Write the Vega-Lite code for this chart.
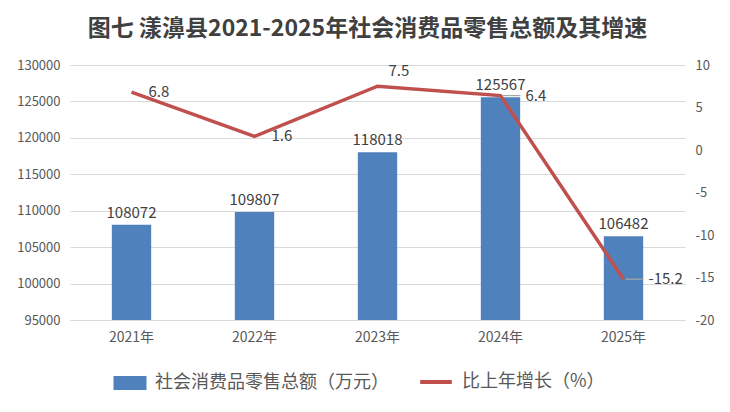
{
  "$schema": "https://vega.github.io/schema/vega-lite/v6.json",
  "width": 615,
  "height": 255,
  "autosize": {"type": "none"},
  "padding": {"left": 70, "top": 65, "right": 45, "bottom": 92},
  "background": "white",
  "config": {
    "view": {"stroke": null},
    "font": "Noto Sans CJK SC",
    "axis": {"labelOverlap": false, "labelSeparation": 0}
  },
  "title": {
    "text": "图七  漾濞县2021-2025年社会消费品零售总额及其增速",
    "font": "Noto Sans CJK SC",
    "fontSize": 23,
    "fontWeight": "bold",
    "color": "#404040",
    "anchor": "middle",
    "dx": -10,
    "offset": 18
  },
  "data": {
    "values": [
      {"year": "2021年", "sales": 108072, "growth": 6.8},
      {"year": "2022年", "sales": 109807, "growth": 1.6},
      {"year": "2023年", "sales": 118018, "growth": 7.5},
      {"year": "2024年", "sales": 125567, "growth": 6.4},
      {"year": "2025年", "sales": 106482, "growth": -15.2}
    ]
  },
  "encoding": {
    "x": {
      "field": "year",
      "type": "nominal",
      "sort": null,
      "scale": {"paddingInner": 0.68, "paddingOuter": 0.34},
      "axis": {
        "title": null,
        "labelAngle": 0,
        "labelFontSize": 14,
        "labelColor": "#595959",
        "labelPadding": 10,
        "ticks": false,
        "domainColor": "#d9d9d9",
        "domainWidth": 1
      }
    }
  },
  "layer": [
    {
      "layer": [
        {
          "mark": {"type": "bar", "color": "#4F81BD"},
          "encoding": {
            "y": {
              "field": "sales",
              "type": "quantitative",
              "scale": {"domain": [95000, 130000], "zero": false, "nice": false},
              "axis": {
                "title": null,
                "orient": "left",
                "tickCount": 7,
                "labelExpr": "replace(datum.label, ',', '')",
                "labelOverlap": false,
                "grid": true,
                "gridColor": "#d9d9d9",
                "domain": false,
                "ticks": false,
                "labelFontSize": 13,
                "labelColor": "#595959",
                "labelPadding": 10
              }
            },
            "y2": {"datum": 95000},
            "color": {
              "datum": "社会消费品零售总额（万元）",
              "scale": {"range": ["#4F81BD"]},
              "legend": {
                "orient": "none",
                "legendX": 50,
                "legendY": 308,
                "title": null,
                "symbolType": "M-1.65,-0.7H1.65V0.7H-1.65Z",
                "symbolSize": 400,
                "symbolStrokeWidth": 0,
                "labelFontSize": 18,
                "labelColor": "#595959",
                "labelOffset": 15,
                "labelLimit": 400
              }
            }
          }
        },
        {
          "mark": {"type": "text", "baseline": "bottom", "dy": -4, "fontSize": 15, "color": "#404040"},
          "encoding": {
            "y": {"field": "sales", "type": "quantitative"},
            "text": {"field": "sales", "type": "quantitative", "format": "d"}
          }
        }
      ]
    },
    {
      "layer": [
        {
          "mark": {"type": "line", "color": "#C0504D", "strokeWidth": 3.5},
          "encoding": {
            "y": {
              "field": "growth",
              "type": "quantitative",
              "scale": {"domain": [-20, 10], "nice": false},
              "axis": {
                "title": null,
                "orient": "right",
                "values": [-20, -15, -10, -5, 0, 5, 10],
                "labelExpr": "replace(datum.label, '−', '-')",
                "labelOverlap": false,
                "grid": false,
                "domain": false,
                "ticks": false,
                "labelFontSize": 13,
                "labelColor": "#595959",
                "labelPadding": 10
              }
            },
            "color": {
              "datum": "比上年增长（%）",
              "scale": {"range": ["#C0504D"]},
              "legend": {
                "orient": "none",
                "legendX": 348,
                "legendY": 299,
                "title": null,
                "symbolType": "stroke",
                "symbolSize": 1000,
                "symbolStrokeWidth": 4,
                "labelFontSize": 18,
                "labelColor": "#595959",
                "labelOffset": 8,
                "labelLimit": 400
              }
            }
          }
        },
        {
          "transform": [{"filter": "datum.year == '2024年' || datum.year == '2025年'"}],
          "mark": {"type": "rule", "color": "#a6a6a6", "strokeWidth": 1.2, "xOffset": 2, "x2Offset": 20},
          "encoding": {
            "x2": {"field": "year"},
            "y": {"field": "growth", "type": "quantitative"},
            "y2": {"field": "growth"}
          }
        },
        {
          "transform": [{"filter": "datum.year == '2021年' || datum.year == '2022年'"}],
          "mark": {"type": "text", "align": "left", "baseline": "middle", "dx": 17, "dy": 0, "fontSize": 15, "color": "#404040"},
          "encoding": {
            "y": {"field": "growth", "type": "quantitative"},
            "text": {"field": "growth", "type": "nominal"}
          }
        },
        {
          "transform": [{"filter": "datum.year == '2023年'"}],
          "mark": {"type": "text", "align": "left", "baseline": "middle", "dx": 11, "dy": -15, "fontSize": 15, "color": "#404040"},
          "encoding": {
            "y": {"field": "growth", "type": "quantitative"},
            "text": {"field": "growth", "type": "nominal"}
          }
        },
        {
          "transform": [{"filter": "datum.year == '2024年' || datum.year == '2025年'"}],
          "mark": {"type": "text", "align": "left", "baseline": "middle", "dx": 25, "dy": 0, "fontSize": 15, "color": "#404040"},
          "encoding": {
            "y": {"field": "growth", "type": "quantitative"},
            "text": {"field": "growth", "type": "nominal"}
          }
        }
      ]
    }
  ],
  "resolve": {"scale": {"y": "independent", "color": "independent"}}
}
